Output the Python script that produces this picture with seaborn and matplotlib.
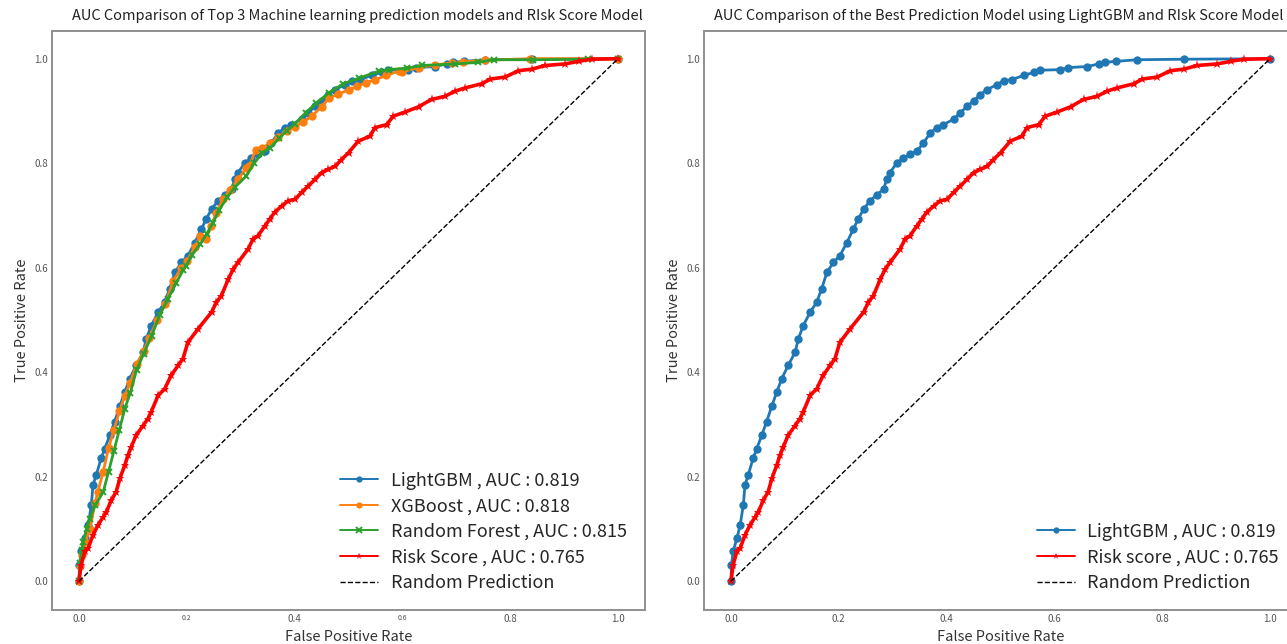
import matplotlib
matplotlib.use("Agg")
import matplotlib.pyplot as plt
import seaborn as sns
import pandas as pd

# ---------------- data ----------------
lgbm_fpr = [0, 0.001, 0.004, 0.011, 0.017, 0.023, 0.026, 0.032, 0.041, 0.048, 0.057, 0.066,
            0.076, 0.085, 0.094, 0.106, 0.119, 0.125, 0.134, 0.147, 0.159, 0.168, 0.178, 0.190,
            0.202, 0.215, 0.227, 0.236, 0.246, 0.258, 0.271, 0.283, 0.289, 0.295, 0.308, 0.320,
            0.332, 0.345, 0.357, 0.370, 0.382, 0.394, 0.413, 0.425, 0.438, 0.450, 0.462, 0.475,
            0.493, 0.506, 0.521, 0.543, 0.562, 0.574, 0.611, 0.626, 0.661, 0.682, 0.694, 0.715,
            0.753, 0.841, 1.0]
lgbm_tpr = [0, 0.031, 0.057, 0.082, 0.107, 0.146, 0.184, 0.203, 0.235, 0.254, 0.279, 0.305,
            0.336, 0.362, 0.387, 0.413, 0.438, 0.464, 0.489, 0.515, 0.534, 0.559, 0.591, 0.610,
            0.623, 0.648, 0.674, 0.693, 0.712, 0.728, 0.740, 0.750, 0.769, 0.782, 0.801, 0.810,
            0.817, 0.823, 0.839, 0.858, 0.868, 0.874, 0.884, 0.896, 0.909, 0.919, 0.931, 0.941,
            0.950, 0.958, 0.960, 0.968, 0.974, 0.978, 0.979, 0.983, 0.985, 0.990, 0.993, 0.995,
            0.998, 0.999, 1.0]

xgb_fpr = [0, 0.002, 0.006, 0.012, 0.020, 0.030, 0.035, 0.045, 0.055, 0.065, 0.075, 0.085,
           0.095, 0.107, 0.120, 0.130, 0.145, 0.160, 0.175, 0.190, 0.200, 0.215, 0.225, 0.236,
           0.245, 0.255, 0.267, 0.280, 0.295, 0.310, 0.316, 0.328, 0.340, 0.355, 0.370, 0.385,
           0.400, 0.415, 0.433, 0.450, 0.464, 0.480, 0.500, 0.515, 0.532, 0.550, 0.570, 0.593,
           0.600, 0.630, 0.660, 0.692, 0.713, 0.754, 0.837, 1.0]
xgb_tpr = [0, 0.030, 0.050, 0.075, 0.100, 0.150, 0.171, 0.210, 0.255, 0.290, 0.325, 0.355,
           0.380, 0.415, 0.440, 0.465, 0.500, 0.530, 0.575, 0.600, 0.612, 0.640, 0.660, 0.655,
           0.680, 0.705, 0.731, 0.748, 0.770, 0.790, 0.795, 0.826, 0.830, 0.838, 0.850, 0.862,
           0.870, 0.878, 0.891, 0.908, 0.925, 0.932, 0.940, 0.947, 0.954, 0.960, 0.968, 0.976,
           0.975, 0.983, 0.988, 0.992, 0.994, 0.997, 1.0, 1.0]

rf_fpr = [0, 0.002, 0.005, 0.008, 0.014, 0.020, 0.030, 0.045, 0.055, 0.065, 0.075, 0.085,
          0.095, 0.107, 0.120, 0.135, 0.150, 0.165, 0.180, 0.193, 0.199, 0.210, 0.225, 0.237,
          0.248, 0.260, 0.275, 0.290, 0.310, 0.325, 0.340, 0.355, 0.372, 0.385, 0.400, 0.421,
          0.440, 0.464, 0.490, 0.520, 0.556, 0.575, 0.609, 0.636, 0.698, 0.741, 0.769, 0.843,
          0.945, 1.0]
rf_tpr = [0, 0.035, 0.060, 0.076, 0.100, 0.120, 0.145, 0.171, 0.210, 0.250, 0.290, 0.330,
          0.360, 0.405, 0.435, 0.470, 0.510, 0.540, 0.570, 0.595, 0.604, 0.625, 0.645, 0.665,
          0.685, 0.710, 0.735, 0.755, 0.775, 0.800, 0.820, 0.830, 0.848, 0.862, 0.875, 0.897,
          0.915, 0.935, 0.952, 0.963, 0.976, 0.979, 0.982, 0.987, 0.990, 0.993, 0.998, 0.998,
          0.999, 1.0]

risk_fpr = [0, 0.004, 0.011, 0.017, 0.026, 0.035, 0.045, 0.051, 0.060, 0.069, 0.076, 0.085,
            0.091, 0.097, 0.106, 0.119, 0.128, 0.134, 0.147, 0.159, 0.171, 0.184, 0.193, 0.202,
            0.221, 0.246, 0.255, 0.264, 0.277, 0.286, 0.295, 0.314, 0.323, 0.332, 0.345, 0.354,
            0.363, 0.376, 0.388, 0.401, 0.413, 0.425, 0.438, 0.450, 0.462, 0.475, 0.487, 0.500,
            0.518, 0.540, 0.549, 0.571, 0.583, 0.605, 0.630, 0.654, 0.679, 0.698, 0.716, 0.747,
            0.763, 0.791, 0.815, 0.840, 0.865, 0.902, 0.927, 0.951, 1.0]
risk_tpr = [0, 0.031, 0.057, 0.063, 0.088, 0.107, 0.123, 0.133, 0.155, 0.171, 0.197, 0.222,
            0.241, 0.257, 0.279, 0.298, 0.311, 0.324, 0.356, 0.368, 0.394, 0.413, 0.426, 0.457,
            0.483, 0.515, 0.534, 0.546, 0.578, 0.597, 0.610, 0.636, 0.655, 0.661, 0.680, 0.693,
            0.706, 0.718, 0.728, 0.731, 0.744, 0.756, 0.769, 0.782, 0.788, 0.794, 0.807, 0.820,
            0.842, 0.852, 0.868, 0.874, 0.890, 0.898, 0.908, 0.922, 0.928, 0.938, 0.944, 0.952,
            0.961, 0.965, 0.977, 0.980, 0.987, 0.990, 0.995, 0.999, 1.0]

diag = [0, 1]

left_labels = ["LightGBM , AUC : 0.819", "XGBoost , AUC : 0.818",
               "Random Forest , AUC : 0.815", "Risk Score , AUC : 0.765", "Random Prediction"]
right_labels = ["LightGBM , AUC : 0.819", "Risk score , AUC : 0.765", "Random Prediction"]
titles = ["AUC Comparison of Top 3 Machine learning prediction models and RIsk Score Model",
          "AUC Comparison of the Best Prediction Model using LightGBM and RIsk Score Model"]
tick_vals = [0.0, 0.2, 0.4, 0.6, 0.8, 1.0]
tick_text = ["0.0", "0.2", "0.4", "0.6", "0.8", "1.0"]

# ---------------- style ----------------
sns.set_style("white")
plt.rcParams["font.family"] = ["Noto Sans CJK KR", "DejaVu Sans"]
plt.rcParams["axes.edgecolor"] = "#8f8f8f"
plt.rcParams["axes.linewidth"] = 1.4

BLUE, ORANGE, GREEN, RED = "#1f77b4", "#ff7f0e", "#2ca02c", "#ff0000"

fig = plt.figure(figsize=(12.87, 6.44), dpi=100)
W = 593 / 1287
ax1 = fig.add_axes([52 / 1287, 34 / 644, W, 579 / 644])
ax2 = fig.add_axes([704 / 1287, 34 / 644, W, 579 / 644])


def curve(ax, fpr, tpr, color, marker, label, ms=6.0, lw=2.0):
    df = pd.DataFrame({"fpr": fpr, "tpr": tpr})
    sns.lineplot(data=df, x="fpr", y="tpr", ax=ax, color=color, marker=marker,
                 markersize=ms, markeredgewidth=1.4 if marker in ("x", "+") else 0,
                 markeredgecolor=color, linewidth=lw, sort=False, estimator=None,
                 label=label)


def dashed(ax, label):
    sns.lineplot(x=diag, y=diag, ax=ax, color="black", linestyle="--", linewidth=1.0,
                 label=label)


# Left panel
curve(ax1, lgbm_fpr, lgbm_tpr, BLUE, "o", left_labels[0])
curve(ax1, xgb_fpr, xgb_tpr, ORANGE, "o", left_labels[1])
curve(ax1, rf_fpr, rf_tpr, GREEN, "x", left_labels[2], ms=5)
curve(ax1, risk_fpr, risk_tpr, RED, "*", left_labels[3], ms=6.5, lw=2.6)
dashed(ax1, left_labels[4])

# Right panel
curve(ax2, lgbm_fpr, lgbm_tpr, BLUE, "o", right_labels[0])
curve(ax2, risk_fpr, risk_tpr, RED, "*", right_labels[1], ms=6.5, lw=2.6)
dashed(ax2, right_labels[2])

for i, ax in enumerate([ax1, ax2]):
    ax.set_xlim(-0.05, 1.05)
    ax.set_ylim(-0.055, 1.053)
    ax.set_title(titles[i], fontsize=10.5, color="#222222", pad=8,
                 x=0.515 if i == 0 else 0.497)
    ax.set_xlabel("False Positive Rate", fontsize=10.5, color="#333333", labelpad=4)
    ax.set_ylabel("True Positive Rate", fontsize=10.5, color="#333333", labelpad=4)
    ax.set_xticks(tick_vals)
    ax.set_yticks(tick_vals)
    ax.set_xticklabels(tick_text)
    ax.set_yticklabels(tick_text)
    ax.tick_params(axis="both", length=0, labelsize=7, labelcolor="#555555", pad=3)
    for s in ax.spines.values():
        s.set_visible(True)
    leg = ax.legend(loc="lower right", frameon=False, fontsize=13, handlelength=2.1,
                    labelspacing=0.42, borderaxespad=0.6, handletextpad=0.7)
    for h in leg.get_lines():
        if h.get_linestyle() in ("--", "dashed"):
            h.set_linewidth(1.0)
        else:
            h.set_linewidth(1.4)
            h.set_markersize(4.5)

# The reference shows two smaller x tick labels on the left panel
for lbl in ax1.get_xticklabels():
    if lbl.get_text() in ("0.2", "0.6"):
        lbl.set_fontsize(5)

fig.savefig("out.png", dpi=100)
